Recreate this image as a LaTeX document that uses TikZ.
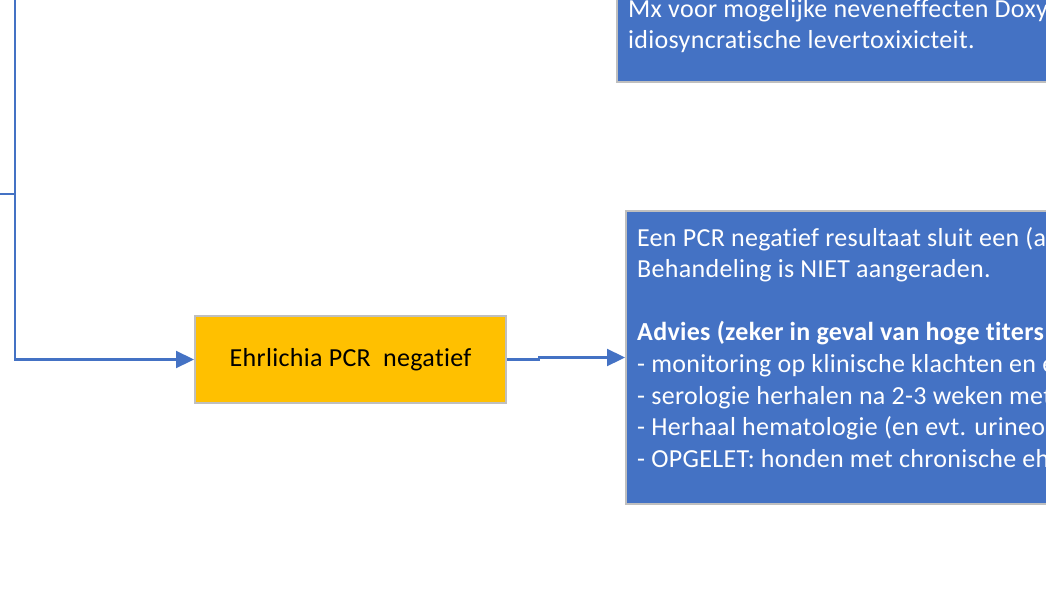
\documentclass[tikz,border=0pt]{standalone}
\usepackage{fontspec}
\setmainfont{Carlito}[Ligatures={NoCommon},LetterSpace=1.2]
\usetikzlibrary{arrows.meta}
\definecolor{obox}{HTML}{4472C4}
\definecolor{ogold}{HTML}{FFC000}
\definecolor{oedge}{HTML}{BFBFBF}
\begin{document}
\begin{tikzpicture}[x=1pt,y=-1pt,
  conn/.style={draw=obox,line width=2.25pt,-{Triangle[length=18pt,width=17pt]}},
  plainline/.style={draw=obox,line width=2.25pt},
  bluebox/.style={draw=oedge,line width=2pt,fill=obox,anchor=north west,inner sep=0pt},
  goldbox/.style={draw=oedge,line width=2pt,fill=ogold,minimum width=311pt,minimum height=87pt,inner sep=0pt,font=\fontsize{26}{31.6}\selectfont},
  wtxt/.style={text=white,anchor=base west,inner sep=0pt,font=\fontsize{26}{31.6}\selectfont}]
\useasboundingbox (0,0) rectangle (1046,607);
\clip (0,0) rectangle (1046,607);
% boxes
\node[bluebox,minimum width=520pt,minimum height=200pt] (top) at (616,-119) {};
\node[bluebox,minimum width=520pt,minimum height=293pt] (advice) at (625,210) {};
\node[goldbox] (ehr) at (350.5,359.5) {Ehrlichia PCR\ \ negatief};
% texts of top box
\node[wtxt] (t1) at (628,17.3) {Mx voor mogelijke neveneffecten Doxy};
\node[wtxt] (t2) at (628,49) {idiosyncratische levertoxixicteit.};
% texts of advice box
\node[wtxt] (a1) at (637,246) {Een PCR negatief resultaat sluit een (a};
\node[wtxt] (a2) at (637,277.6) {Behandeling is NIET aangeraden.};
\node[wtxt,font=\fontsize{26}{31.6}\selectfont\bfseries] (a3) at (637,340.8) {Advies (zeker in geval van hoge titers};
\node[wtxt] (a4) at (637,372.4) {- monitoring op klinische klachten en e};
\node[wtxt] (a5) at (637,404) {- serologie herhalen na 2-3 weken met};
\node[wtxt] (a6) at (637,435.6) {- Herhaal hematologie (en evt. urineon};
\node[wtxt] (a7) at (637,467.2) {- OPGELET: honden met chronische eh};
% connectors
\coordinate (trunktop) at (15,-5);
\coordinate (stub) at (-5,194);
\coordinate (bend) at (539,359.5);
\draw[plainline] (stub) -- (stub -| trunktop);
\draw[conn] (trunktop) |- (ehr.west);
\draw[conn] (ehr.east) -- (bend) -- (bend |- advice.west) -- (advice.west);
\end{tikzpicture}
\end{document}
